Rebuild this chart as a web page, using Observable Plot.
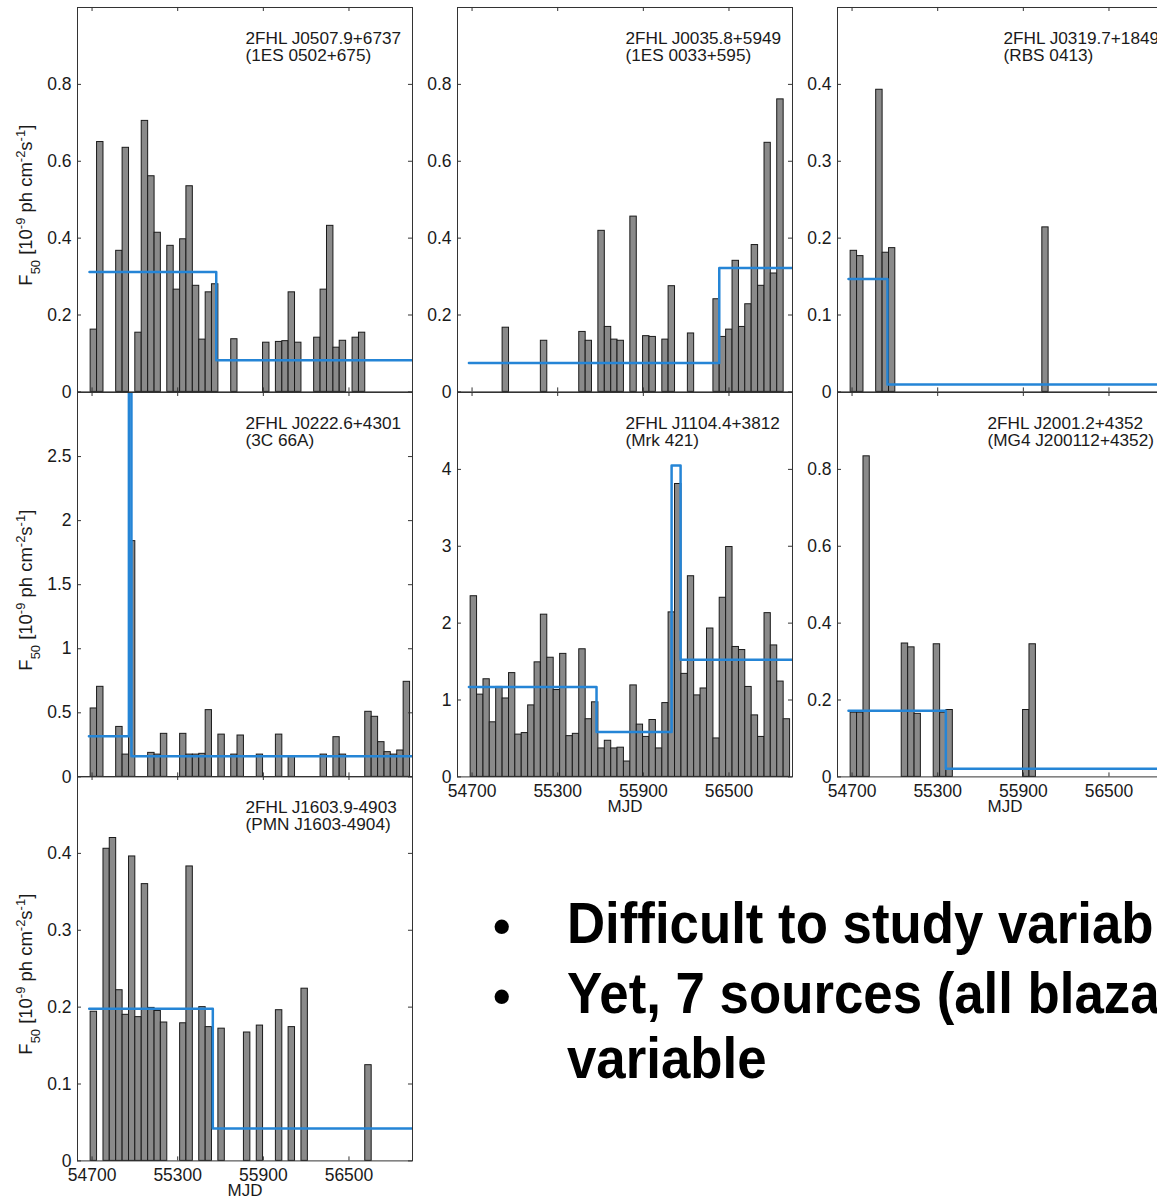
<!DOCTYPE html>
<html><head><meta charset="utf-8">
<script src="https://cdn.jsdelivr.net/npm/d3@7"></script>
<script src="https://cdn.jsdelivr.net/npm/@observablehq/plot@0.6"></script>
<style>
body{margin:0;background:#fff;}
#wrap{position:relative;width:1157px;height:1199px;overflow:hidden;font-family:"Liberation Sans",Arial,Helvetica,sans-serif;}
.panel{position:absolute;}
.bl{position:absolute;font-weight:bold;font-size:58px;line-height:1;color:#000;white-space:nowrap;transform:scaleX(0.91);transform-origin:0 0;}
.bu{position:absolute;font-weight:bold;font-size:50px;line-height:1;color:#000;}
</style></head><body><div id="wrap"></div>
<script>
// ---------- DATA ----------
// Light-curve bin start edges (MJD), shared by all sources
const binStart = [54690, 54735, 54780, 54824, 54869, 54914, 54959, 55003, 55048, 55093,
  55138, 55182, 55227, 55272, 55317, 55361, 55406, 55451, 55496, 55540,
  55585, 55630, 55675, 55719, 55764, 55809, 55854, 55898, 55943, 55988,
  56033, 56077, 56122, 56167, 56212, 56256, 56301, 56346, 56391, 56435,
  56480, 56525, 56570, 56614, 56659, 56704, 56749, 56793, 56838, 56883, 56928];
const xTicks = [54700, 55300, 55900, 56500];

const sourceNames = ["2FHL J0507.9+6737", "2FHL J0035.8+5949", "2FHL J0319.7+1849",
  "2FHL J0222.6+4301", "2FHL J1104.4+3812", "2FHL J2001.2+4352", "2FHL J1603.9-4903"];
const assocNames = ["(1ES 0502+675)", "(1ES 0033+595)", "(RBS 0413)",
  "(3C 66A)", "(Mrk 421)", "(MG4 J200112+4352)", "(PMN J1603-4904)"];

// 2FHL J0507.9+6737
const j0507Bins = [0,1,4,5,7,8,9,10,12,13,14,15,16,17,18,19,22,27,29,30,31,32,35,36,37,38,39,41,42];
const j0507Flux = [0.162,0.65,0.367,0.635,0.154,0.705,0.561,0.414,0.38,0.266,0.397,0.535,0.276,0.136,0.259,0.28,0.137,0.128,0.13,0.132,0.259,0.128,0.141,0.266,0.432,0.115,0.133,0.141,0.154];
const j0507BlockStart = [54682, 55570];
const j0507BlockFlux = [0.312, 0.082];

// 2FHL J0035.8+5949
const j0035Bins = [5,11,17,18,20,21,22,23,25,27,28,30,31,34,38,39,40,41,42,43,44,45,46,47,48];
const j0035Flux = [0.167,0.133,0.156,0.133,0.419,0.169,0.136,0.133,0.456,0.145,0.143,0.136,0.275,0.152,0.241,0.143,0.162,0.341,0.169,0.228,0.382,0.276,0.648,0.308,0.761];
const j0035BlockStart = [54678, 56432];
const j0035BlockFlux = [0.075, 0.322];

// 2FHL J0319.7+1849
const j0319Bins = [0,1,4,5,6,30];
const j0319Flux = [0.1835,0.1766,0.393,0.181,0.187,0.214];
const j0319BlockStart = [54675, 54948];
const j0319BlockFlux = [0.147, 0.0095];

// 2FHL J0222.6+4301
const j0222Bins = [0,1,4,5,6,9,10,11,14,15,16,17,18,20,22,23,26,29,31,36,38,39,43,44,45,46,47,48,49];
const j0222Flux = [0.534,0.703,0.39,0.174,1.84,0.1875,0.174,0.336,0.336,0.174,0.174,0.18,0.521,0.33,0.174,0.323,0.174,0.33,0.156,0.174,0.31,0.174,0.508,0.469,0.271,0.193,0.174,0.206,0.742];
const j0222BlockStart = [54678, 54958, 54976];
const j0222BlockFlux = [0.318, 3.6, 0.161];

// 2FHL J1104.4+3812
const j1104Bins = [0,1,2,3,4,5,6,7,8,9,10,11,12,13,14,15,16,17,18,19,20,21,22,23,24,
  25,26,27,28,29,30,31,32,33,34,35,36,37,38,39,40,41,42,43,44,45,46,47,48,49];
const j1104Flux = [2.35,1.07,1.27,0.71,1.17,1.02,1.35,0.55,0.57,0.93,1.49,2.11,1.55,1.13,1.6,0.53,0.56,1.66,0.75,0.97,
  0.37,0.47,0.37,0.38,0.2,1.19,0.68,0.52,0.74,0.37,0.96,2.14,3.81,1.34,2.61,1.06,1.15,1.93,0.5,2.33,
  2.99,1.69,1.65,1.17,0.8,0.52,2.13,1.71,1.24,0.75];
const j1104BlockStart = [54678, 55572, 56098, 56161];
const j1104BlockFlux = [1.17, 0.585, 4.05, 1.525];

// 2FHL J2001.2+4352
const j2001Bins = [0,1,2,8,9,10,13,14,15,27,28];
const j2001Flux = [0.167,0.167,0.834,0.347,0.337,0.164,0.345,0.167,0.174,0.174,0.345];
const j2001BlockStart = [54675, 55357];
const j2001BlockFlux = [0.172, 0.021];

// 2FHL J1603.9-4903
const j1603Bins = [0,2,3,4,5,6,7,8,9,10,11,14,15,17,18,20,24,26,29,31,33,43];
const j1603Flux = [0.194,0.406,0.42,0.222,0.19,0.396,0.187,0.36,0.199,0.195,0.18,0.179,0.383,0.2,0.174,0.172,0.167,0.176,0.196,0.174,0.224,0.1245];
const j1603BlockStart = [54680, 55546];
const j1603BlockFlux = [0.198, 0.042];

const yTicksA = [0, 0.2, 0.4, 0.6, 0.8];
const yTicksB = [0, 0.1, 0.2, 0.3, 0.4];
const yTicksC = [0, 0.5, 1, 1.5, 2, 2.5];
const yTicksD = [0, 1, 2, 3, 4];
const yMaxes = [1.0, 1.0, 0.5, 3.0, 5.0, 1.0, 0.5];

// ---------- LAYOUT ----------
const colLeft = [77.3, 456.7, 836.7];
const rowTop = [7.3, 391.6, 775.9];
const W = 335, H = 384.4;
const ML = 75, MR = 4, MT = 4, MB = 46;
const X0 = 54598, X1 = 56945;

const panels = [
  {bins: j0507Bins, flux: j0507Flux, bs: j0507BlockStart, bf: j0507BlockFlux, yTicks: yTicksA, col: 0, row: 0, xLab: false, yTitle: true, tdx: 168},
  {bins: j0035Bins, flux: j0035Flux, bs: j0035BlockStart, bf: j0035BlockFlux, yTicks: yTicksA, col: 1, row: 0, xLab: false, yTitle: false, tdx: 168},
  {bins: j0319Bins, flux: j0319Flux, bs: j0319BlockStart, bf: j0319BlockFlux, yTicks: yTicksB, col: 2, row: 0, xLab: false, yTitle: false, tdx: 166},
  {bins: j0222Bins, flux: j0222Flux, bs: j0222BlockStart, bf: j0222BlockFlux, yTicks: yTicksC, col: 0, row: 1, xLab: false, yTitle: true, tdx: 168},
  {bins: j1104Bins, flux: j1104Flux, bs: j1104BlockStart, bf: j1104BlockFlux, yTicks: yTicksD, col: 1, row: 1, xLab: true, yTitle: false, tdx: 168},
  {bins: j2001Bins, flux: j2001Flux, bs: j2001BlockStart, bf: j2001BlockFlux, yTicks: yTicksA, col: 2, row: 1, xLab: true, yTitle: false, tdx: 150},
  {bins: j1603Bins, flux: j1603Flux, bs: j1603BlockStart, bf: j1603BlockFlux, yTicks: yTicksB, col: 0, row: 2, xLab: true, yTitle: true, tdx: 168}
];

const wrap = document.getElementById("wrap");
const FONT = '"Liberation Sans", Arial, Helvetica, sans-serif';
const INK = "#1a1a1a", FRAME = "#333333", BLUE = "#2585d6";

panels.forEach((p, i) => {
  const yMax = yMaxes[i];
  const tickLenX = 4 * (X1 - X0) / W;
  const tickLenY = 4 * yMax / H;
  const bars = p.bins.map((b, k) => ({a: binStart[b], b: binStart[b + 1], f: p.flux[k]}));
  const steps = p.bs.map((t, k) => ({t, f: p.bf[k]})).concat([{t: X1, f: p.bf[p.bf.length - 1]}]);
  const marks = [
    Plot.rectY(bars, {x1: "a", x2: "b", y1: 0, y2: "f", fill: "#8a8a8a", stroke: "#1a1a1a", strokeWidth: 1}),
    Plot.line(steps, {x: "t", y: "f", curve: "step-after", stroke: BLUE, strokeWidth: 2.5, clip: true}),
    Plot.frame({stroke: FRAME, strokeWidth: 1}),
    Plot.ruleX(xTicks, {x: d => d, y1: 0, y2: tickLenY, stroke: FRAME}),
    Plot.ruleX(xTicks, {x: d => d, y1: yMax - tickLenY, y2: yMax, stroke: FRAME}),
    Plot.ruleY(p.yTicks, {y: d => d, x1: X0, x2: X0 + tickLenX, stroke: FRAME}),
    Plot.ruleY(p.yTicks, {y: d => d, x1: X1 - tickLenX, x2: X1, stroke: FRAME}),
    Plot.axisY(p.yTicks, {anchor: "left", tickSize: 0, tickPadding: 6, fontSize: 17.5, tickFormat: d => String(d), label: null, fill: INK}),
    Plot.text([sourceNames[i] + "\n" + assocNames[i]], {frameAnchor: "top-left", dx: p.tdx, dy: 24, lineAnchor: "top", textAnchor: "start", fontSize: 17.2, lineHeight: 1.02, fill: INK})
  ];
  if (p.xLab) {
    marks.push(Plot.axisX(xTicks, {anchor: "bottom", tickSize: 0, tickPadding: 8, fontSize: 17.5, tickFormat: d => String(d), label: null, fill: INK}));
    marks.push(Plot.text(["MJD"], {frameAnchor: "bottom", dy: 23.5, lineAnchor: "top", fontSize: 17, fill: INK}));
  }
  const svg = Plot.plot({
    width: ML + W + MR, height: MT + H + MB,
    marginLeft: ML, marginRight: MR, marginTop: MT, marginBottom: MB,
    x: {domain: [X0, X1], axis: null},
    y: {domain: [0, yMax], axis: null},
    marks
  });
  svg.style.background = "transparent";
  svg.style.overflow = "visible";
  svg.style.maxWidth = "none";
  svg.style.fontFamily = FONT;
  svg.style.color = INK;
  if (p.yTitle) {
    const t = d3.select(svg).append("text")
      .attr("transform", `translate(${ML - 44.6},${MT + H / 2 + 6}) rotate(-90)`)
      .attr("text-anchor", "middle").attr("font-size", 18.5).attr("fill", INK)
      .attr("font-family", FONT);
    const parts = [["F", 0], ["50", -1], [" [10", 0], ["-9", 1], [" ph cm", 0], ["-2", 1], ["s", 0], ["-1", 1], ["]", 0]];
    parts.forEach(([s, k]) => {
      const ts = t.append("tspan").text(s);
      if (k === -1) ts.attr("baseline-shift", "sub").attr("font-size", "70%");
      if (k === 1) ts.attr("baseline-shift", "super").attr("font-size", "70%");
    });
  }
  const div = document.createElement("div");
  div.className = "panel";
  div.style.left = (colLeft[p.col] - ML) + "px";
  div.style.top = (rowTop[p.row] - MT) + "px";
  div.appendChild(svg);
  wrap.appendChild(div);
});

// Bullet text
const bulletLines = [
  {bullet: true, text: "Difficult to study variability"},
  {bullet: true, text: "Yet, 7 sources (all blazars) are"},
  {bullet: false, text: "variable"}
];
const baselines = [943, 1013, 1078];
bulletLines.forEach((l, k) => {
  if (l.bullet) {
    const b = document.createElement("div");
    b.className = "bu"; b.textContent = "\u2022";
    b.style.left = "493px"; b.style.top = (baselines[k] - 0.8465 * 50) + "px";
    wrap.appendChild(b);
  }
  const d = document.createElement("div");
  d.className = "bl"; d.textContent = l.text;
  d.style.left = "567px"; d.style.top = (baselines[k] - 0.8465 * 58) + "px";
  wrap.appendChild(d);
});
</script></body></html>
